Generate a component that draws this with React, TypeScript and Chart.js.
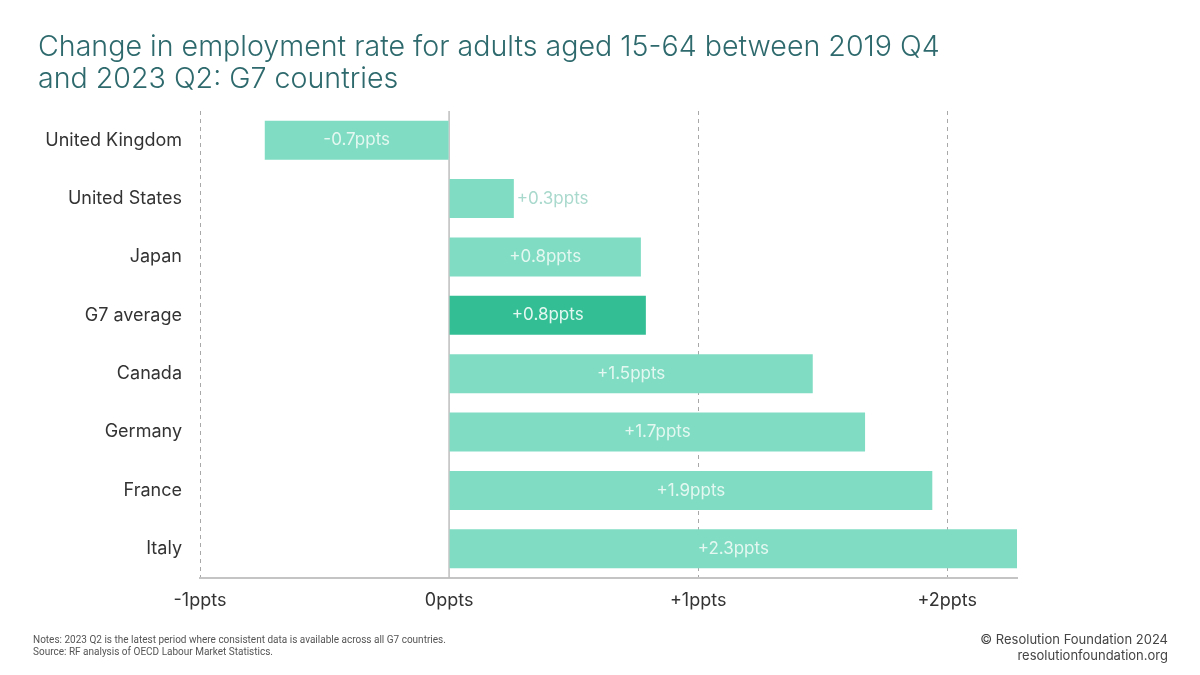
import React, { useEffect, useRef } from "react";
import { Chart, registerables } from "chart.js";

Chart.register(...registerables);

const countries = [
  "United Kingdom",
  "United States",
  "Japan",
  "G7 average",
  "Canada",
  "Germany",
  "France",
  "Italy",
];
const changes = [-0.74, 0.26, 0.77, 0.79, 1.46, 1.67, 1.94, 2.28];
const valueLabels = ["-0.7ppts", "+0.3ppts", "+0.8ppts", "+0.8ppts", "+1.5ppts", "+1.7ppts", "+1.9ppts", "+2.3ppts"];
const tickValues = [-1, 0, 1, 2];
const tickLabels = ["-1ppts", "0ppts", "+1ppts", "+2ppts"];
const outsideLabel = [false, true, false, false, false, false, false, false];

const MINT = "#80dcc3";
const DARK = "#34be94";

const labelPlugin = {
  id: "barLabels",
  afterDatasetsDraw(chart: any) {
    const ctx = chart.ctx;
    const meta = chart.getDatasetMeta(0);
    ctx.save();
    ctx.font = "17px Inter, Roboto, sans-serif";
    ctx.textBaseline = "middle";
    meta.data.forEach((bar: any, i: number) => {
      const x0 = bar.base;
      const x1 = bar.x;
      if (outsideLabel[i]) {
        ctx.fillStyle = "#a9d9cc";
        ctx.textAlign = "left";
        ctx.fillText(valueLabels[i], Math.max(x0, x1) + 3, bar.y);
      } else {
        ctx.fillStyle = "#e4f8f1";
        ctx.textAlign = "center";
        ctx.fillText(valueLabels[i], (x0 + x1) / 2, bar.y);
      }
    });
    ctx.restore();
  },
};

const zeroLinePlugin = {
  id: "zeroLine",
  beforeDatasetsDraw(chart: any) {
    const { ctx, chartArea, scales } = chart;
    const x = scales.x.getPixelForValue(0);
    ctx.save();
    ctx.strokeStyle = "#bdbdbd";
    ctx.lineWidth = 1.5;
    ctx.beginPath();
    ctx.moveTo(x, chartArea.top);
    ctx.lineTo(x, chartArea.bottom);
    ctx.stroke();
    ctx.restore();
  },
};

export default function App() {
  const ref = useRef<HTMLCanvasElement | null>(null);

  useEffect(() => {
    if (!ref.current) return;
    const chart = new Chart(ref.current, {
      type: "bar",
      data: {
        labels: countries,
        datasets: [
          {
            data: changes,
            backgroundColor: countries.map((c) => (c === "G7 average" ? DARK : MINT)),
            borderWidth: 0,
            categoryPercentage: 1,
            barPercentage: 0.67,
          },
        ],
      },
      options: {
        indexAxis: "y",
        animation: false,
        responsive: false,
        maintainAspectRatio: false,
        layout: { padding: { left: 0, right: 183, top: 111, bottom: 0 } },
        plugins: {
          legend: { display: false },
          tooltip: { enabled: false },
          title: { display: false },
        },
        scales: {
          x: {
            type: "linear",
            min: -1,
            max: 2.28,
            afterFit: (s: any) => {
              s.height = 97;
            },
            afterBuildTicks: (s: any) => {
              s.ticks = tickValues.map((v) => ({ value: v }));
            },
            ticks: {
              includeBounds: false,
              padding: 12,
              color: "#333333",
              font: { family: "Inter, Roboto, sans-serif", size: 18 },
              callback: (v: any) => {
                const i = tickValues.indexOf(Number(v));
                return i >= 0 ? tickLabels[i] : "";
              },
            },
            grid: {
              drawTicks: false,
              color: (c: any) => (c.tick && c.tick.value === 0 ? "rgba(0,0,0,0)" : "#a8a8a8"),
              lineWidth: 1,
            },
            border: { display: true, color: "#c4c4c4", width: 2, dash: [4, 4] },
          },
          y: {
            afterFit: (s: any) => {
              s.width = 200;
            },
            ticks: {
              padding: 18,
              color: "#333333",
              font: { family: "Inter, Roboto, sans-serif", size: 18 },
            },
            grid: { display: false, drawTicks: false },
            border: { display: false },
          },
        },
      },
      plugins: [zeroLinePlugin, labelPlugin],
    });
    return () => chart.destroy();
  }, []);

  return (
    <div style={{ position: "absolute", left: 0, top: 0, width: 1200, height: 675, background: "#fff", overflow: "hidden" }}>
      <canvas ref={ref} width={1200} height={675} style={{ position: "absolute", left: 0, top: 0, width: 1200, height: 675 }} />
      <div
        style={{
          position: "absolute",
          left: 38,
          top: 30,
          fontFamily: "Inter, 'Open Sans', sans-serif",
          fontWeight: 300,
          fontSize: 28.6,
          lineHeight: "32px",
          color: "#2e6a6d",
        }}
      >
        Change in employment rate for adults aged 15-64 between 2019 Q4
        <br />
        and 2023 Q2: G7 countries
      </div>
      <div
        style={{
          position: "absolute",
          left: 33,
          top: 634,
          fontFamily: "'Liberation Sans Narrow', Roboto, sans-serif",
          fontSize: 10,
          lineHeight: "12px",
          color: "#555555",
        }}
      >
        Notes: 2023 Q2 is the latest period where consistent data is available across all G7 countries.
        <br />
        Source: RF analysis of OECD Labour Market Statistics.
      </div>
      <div
        style={{
          position: "absolute",
          right: 32,
          top: 631,
          textAlign: "right",
          fontFamily: "Inter, Roboto, sans-serif",
          fontSize: 13,
          lineHeight: "16px",
          color: "#444444",
        }}
      >
        © Resolution Foundation 2024
        <br />
        resolutionfoundation.org
      </div>
    </div>
  );
}
